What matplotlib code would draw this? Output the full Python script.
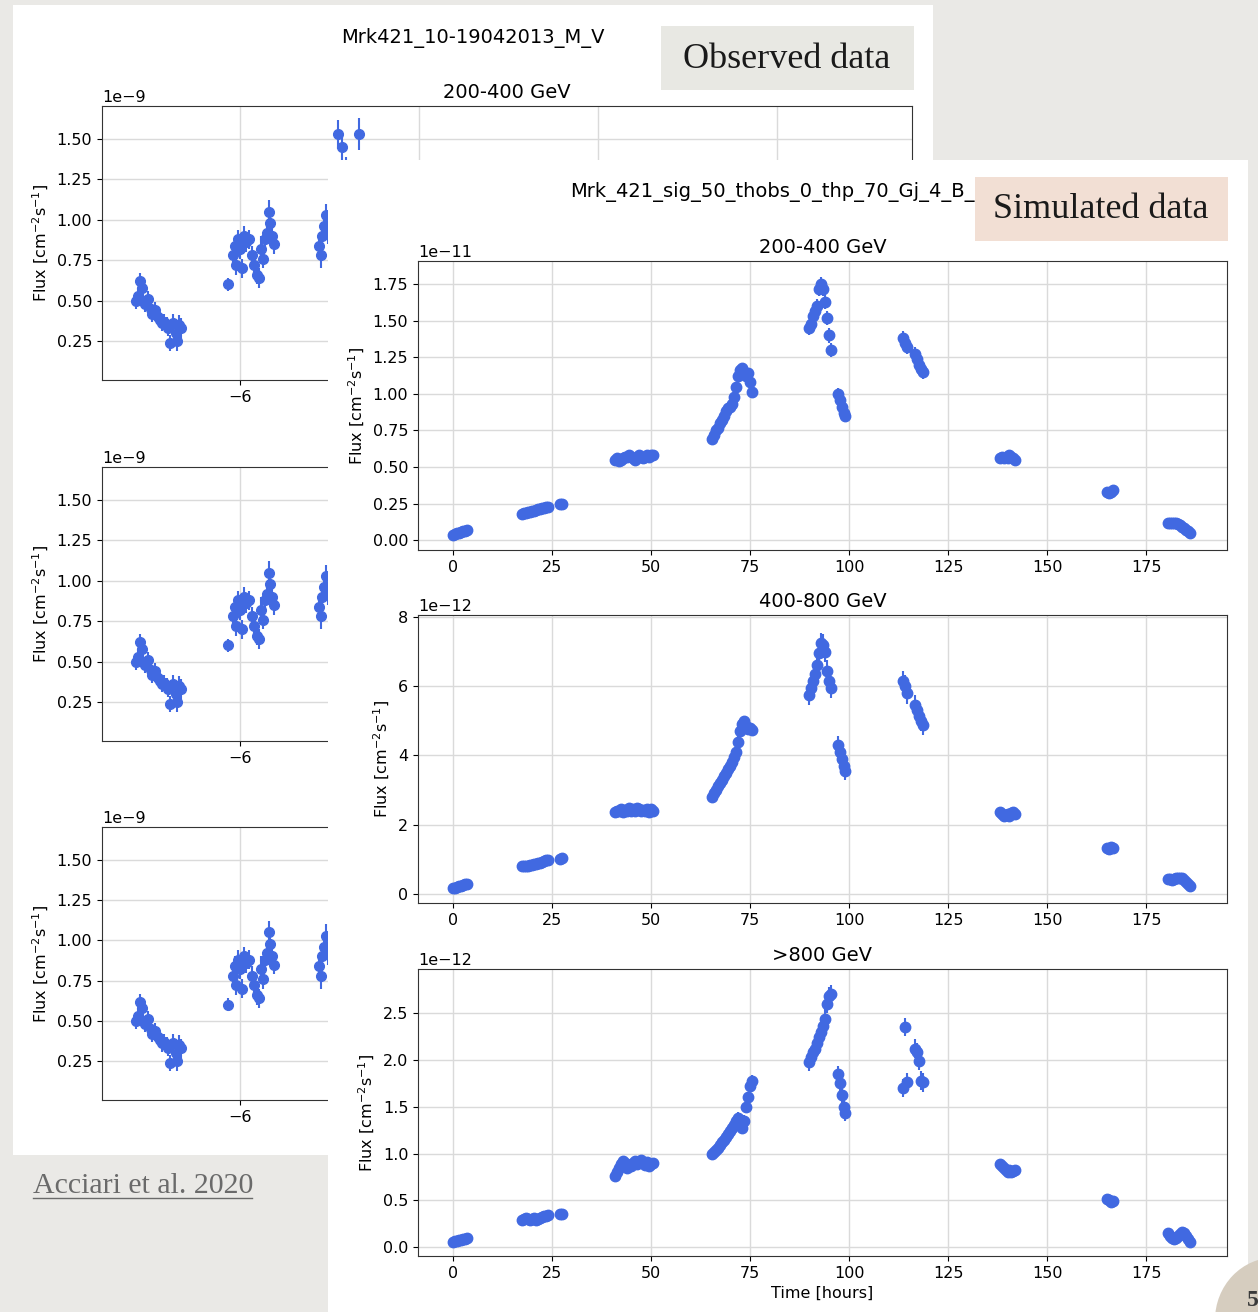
import numpy as np
import matplotlib.pyplot as plt
from matplotlib.patches import Rectangle, Circle
from matplotlib.lines import Line2D
from matplotlib.ticker import MultipleLocator

W, H = 1258, 1312

# Observed light curve (Acciari et al. 2020), only the part left visible on the slide, flux in 1e-9
obs_time = [-7.16, -7.14, -7.12, -7.10, -7.08, -7.06, -7.03, -7.00, -6.98, -6.95, -6.92,
            -6.90, -6.87, -6.85, -6.82, -6.80, -6.78, -6.75, -6.72, -6.70, -6.68, -6.66,
            -6.13, -6.08, -6.06, -6.04, -6.02, -6.00, -5.98, -5.96, -5.93, -5.90, -5.87,
            -5.84, -5.81, -5.79, -5.76, -5.74, -5.72, -5.70, -5.68, -5.66, -5.64, -5.62,
            -5.12, -5.10, -5.08, -5.06, -5.04, -5.02, -4.90, -4.86, -4.82, -4.67]
obs_flux = [0.50, 0.53, 0.62, 0.58, 0.50, 0.48, 0.51, 0.45, 0.42, 0.44, 0.40,
            0.38, 0.36, 0.37, 0.35, 0.33, 0.24, 0.36, 0.30, 0.25, 0.35, 0.33,
            0.60, 0.78, 0.84, 0.72, 0.88, 0.82, 0.70, 0.90, 0.86, 0.88, 0.78,
            0.72, 0.66, 0.64, 0.82, 0.76, 0.88, 0.92, 1.05, 0.98, 0.90, 0.85,
            0.84, 0.78, 0.90, 0.96, 1.03, 0.92, 1.53, 1.45, 1.30, 1.53]
obs_err = [0.05, 0.05, 0.05, 0.05, 0.05, 0.05, 0.05, 0.05, 0.05, 0.05, 0.05,
           0.05, 0.05, 0.05, 0.05, 0.05, 0.05, 0.06, 0.06, 0.06, 0.06, 0.06,
           0.04, 0.06, 0.06, 0.06, 0.06, 0.06, 0.06, 0.06, 0.06, 0.06, 0.06,
           0.06, 0.06, 0.06, 0.08, 0.06, 0.06, 0.06, 0.07, 0.07, 0.06, 0.06,
           0.06, 0.08, 0.07, 0.07, 0.07, 0.07, 0.09, 0.09, 0.09, 0.10]

# Simulated light curves, time in hours
sim_time = [0.0, 0.5, 1.0, 1.5, 2.0, 2.5, 3.0, 3.5,
            17.5, 18.0, 18.5, 19.0, 19.5, 20.0, 20.5, 21.0, 21.5, 22.0, 22.5, 23.0, 23.5, 24.0,
            27.0, 27.5,
            41.0, 41.5, 42.0, 42.5, 43.0, 43.5, 44.0, 44.5, 45.0, 45.5,
            46.0, 46.5, 47.0, 47.5, 48.0, 48.5, 49.0, 49.5, 50.0, 50.5,
            65.5, 66.0, 66.5, 67.0, 67.5, 68.0, 68.5, 69.0, 69.5, 70.0, 70.5,
            71.0, 71.5, 72.0, 72.5, 73.0, 73.5, 74.0, 74.5, 75.0, 75.5,
            90.0, 90.5, 91.0, 91.5, 92.0, 92.5, 93.0, 93.5, 94.0, 94.5, 95.0, 95.5,
            97.2, 97.7, 98.2, 98.7, 99.1,
            113.6, 114.1, 114.6,
            116.6, 117.1, 117.6, 118.1, 118.6,
            138.0, 138.5, 139.0, 139.5, 140.0, 140.5, 141.0, 141.5, 142.0,
            165.0, 165.5, 166.0, 166.5,
            180.5, 181.0, 181.5, 182.0, 182.5, 183.0, 183.5, 184.0, 184.5, 185.0, 185.5, 186.0]
seg_len = [8, 14, 2, 20, 21, 12, 5, 3, 5, 9, 4, 12]

# 200-400 GeV, 1e-11
flux_low = [0.035, 0.040, 0.045, 0.050, 0.055, 0.060, 0.065, 0.070,
            0.180, 0.182, 0.186, 0.190, 0.194, 0.198, 0.202, 0.206, 0.210, 0.214, 0.218, 0.222, 0.226, 0.228,
            0.245, 0.250,
            0.55, 0.56, 0.54, 0.55, 0.56, 0.57, 0.57, 0.58, 0.57, 0.56,
            0.55, 0.57, 0.58, 0.57, 0.56, 0.57, 0.58, 0.57, 0.58, 0.58,
            0.69, 0.72, 0.75, 0.77, 0.80, 0.82, 0.85, 0.88, 0.90, 0.91, 0.93,
            0.98, 1.05, 1.12, 1.16, 1.18, 1.15, 1.12, 1.14, 1.08, 1.01,
            1.45, 1.48, 1.53, 1.57, 1.60, 1.72, 1.75, 1.72, 1.63, 1.52, 1.40, 1.30,
            1.00, 0.96, 0.91, 0.87, 0.85,
            1.38, 1.35, 1.32,
            1.27, 1.24, 1.20, 1.17, 1.15,
            0.56, 0.57, 0.56, 0.57, 0.56, 0.58, 0.57, 0.56, 0.55,
            0.33, 0.32, 0.33, 0.34,
            0.120, 0.120, 0.120, 0.120, 0.115, 0.110, 0.100, 0.090, 0.080, 0.070, 0.060, 0.045]
# 400-800 GeV, 1e-12
flux_mid = [0.15, 0.17, 0.19, 0.21, 0.23, 0.25, 0.27, 0.28,
            0.80, 0.80, 0.81, 0.81, 0.82, 0.84, 0.85, 0.86, 0.88, 0.90, 0.92, 0.94, 0.96, 0.97,
            1.00, 1.03,
            2.35, 2.40, 2.38, 2.45, 2.36, 2.42, 2.40, 2.47, 2.38, 2.45,
            2.40, 2.48, 2.44, 2.38, 2.42, 2.40, 2.46, 2.36, 2.44, 2.40,
            2.80, 2.90, 3.00, 3.10, 3.20, 3.30, 3.40, 3.50, 3.60, 3.70, 3.80,
            3.95, 4.10, 4.40, 4.70, 4.90, 5.00, 4.85, 4.75, 4.80, 4.72,
            5.75, 5.95, 6.15, 6.35, 6.60, 6.95, 7.25, 7.20, 7.00, 6.45, 6.15, 5.95,
            4.30, 4.10, 3.90, 3.70, 3.55,
            6.15, 6.02, 5.80,
            5.45, 5.30, 5.15, 5.00, 4.88,
            2.35, 2.30, 2.25, 2.28, 2.30, 2.26, 2.32, 2.35, 2.30,
            1.32, 1.30, 1.35, 1.32,
            0.42, 0.41, 0.40, 0.42, 0.44, 0.45, 0.46, 0.44, 0.40, 0.34, 0.28, 0.22]
# >800 GeV, 1e-12
flux_high = [0.060, 0.065, 0.070, 0.075, 0.080, 0.085, 0.090, 0.095,
             0.29, 0.30, 0.31, 0.30, 0.29, 0.30, 0.31, 0.29, 0.30, 0.31, 0.32, 0.33, 0.33, 0.34,
             0.35, 0.36,
             0.76, 0.80, 0.85, 0.89, 0.92, 0.90, 0.85, 0.88, 0.87, 0.90,
             0.92, 0.89, 0.91, 0.93, 0.90, 0.88, 0.91, 0.87, 0.89, 0.90,
             1.00, 1.02, 1.04, 1.06, 1.09, 1.12, 1.15, 1.18, 1.21, 1.24, 1.27,
             1.31, 1.35, 1.38, 1.30, 1.27, 1.35, 1.50, 1.60, 1.72, 1.78,
             1.98, 2.03, 2.08, 2.12, 2.18, 2.24, 2.30, 2.36, 2.44, 2.60, 2.68, 2.70,
             1.85, 1.75, 1.62, 1.50, 1.43,
             1.70, 2.35, 1.76,
             2.12, 2.08, 1.99, 1.78, 1.76,
             0.89, 0.87, 0.85, 0.83, 0.80, 0.82, 0.80, 0.81, 0.82,
             0.52, 0.50, 0.48, 0.49,
             0.15, 0.12, 0.10, 0.09, 0.10, 0.12, 0.14, 0.16, 0.15, 0.12, 0.09, 0.06]

# error bar size per segment
err_low = [0.01, 0.01, 0.01, 0.02, 0.03, 0.05, 0.04, 0.05, 0.05, 0.02, 0.02, 0.01]
err_mid = [0.05, 0.05, 0.06, 0.12, 0.15, 0.30, 0.25, 0.30, 0.30, 0.12, 0.10, 0.05]
err_high = [0.01, 0.02, 0.02, 0.04, 0.06, 0.10, 0.08, 0.10, 0.10, 0.04, 0.03, 0.02]

bands = ['200-400 GeV', '400-800 GeV', '>800 GeV']

BLUE = 'royalblue'
BG = '#eae9e6'

fig = plt.figure(figsize=(W / 100, H / 100), dpi=100)
fig.patch.set_facecolor(BG)


def px_axes(l, t, r, b):
    return fig.add_axes([l / W, 1 - b / H, (r - l) / W, (b - t) / H])


def px_rect(l, t, r, b, color, z):
    fig.add_artist(Rectangle((l / W, 1 - b / H), (r - l) / W, (b - t) / H,
                             transform=fig.transFigure, facecolor=color,
                             edgecolor='none', zorder=z))


def style(ax):
    ax.grid(True, color='#dadada', linewidth=1.0)
    ax.set_axisbelow(True)
    ax.tick_params(labelsize=11.5)
    ax.yaxis.get_offset_text().set_fontsize(11.5)
    for s in ax.spines.values():
        s.set_color('#333333')
    ax.set_ylabel('Flux [cm$^{-2}$s$^{-1}$]', fontsize=11.5)


# ---- observed figure (underneath) ----
px_rect(13, 5, 933, 1155, 'white', -1)
fig.text(473 / W, 1 - 38 / H, 'Mrk421_10-19042013_M_V', ha='center', va='center', fontsize=14)

obs_boxes = [(102, 106, 912, 380), (102, 467, 912, 741), (102, 827, 912, 1100)]
for i, pos in enumerate(obs_boxes):
    ax = px_axes(*pos)
    ax.errorbar(obs_time, np.array(obs_flux) * 1e-9, yerr=np.array(obs_err) * 1e-9,
                fmt='o', color=BLUE, markersize=7, elinewidth=1.5, capsize=0)
    ax.set_xlim(-7.543, 1.513)
    ax.set_xticks([-6, -4, -2, 0])
    ax.set_ylim(0.009e-9, 1.704e-9)
    ax.set_title(bands[i], fontsize=14)
    style(ax)

px_rect(661, 26, 914, 90, '#e8e8e3', 0.5)
fig.text(787 / W, 1 - 60 / H, 'Observed data', ha='center', va='center',
         fontsize=26, family='Liberation Serif', color='#1a1a1a', zorder=0.6)

fig.text(33 / W, 1 - 1186 / H, 'Acciari et al. 2020', ha='left', va='center',
         fontsize=21.5, family='Liberation Serif', color='#6a6a6a')
fig.add_artist(Line2D([33 / W, 252 / W], [1 - 1198 / H, 1 - 1198 / H],
                      transform=fig.transFigure, color='#6a6a6a', linewidth=1))

# ---- simulated figure (on top) ----
px_rect(328, 160, 1248, 1312, 'white', 1.5)
fig.text(570 / W, 1 - 192 / H, 'Mrk_421_sig_50_thobs_0_thp_70_Gj_4_B_', ha='left',
         va='center', fontsize=14, zorder=2.5)

sim_boxes = [(418, 261, 1227, 550), (418, 615, 1227, 903), (418, 969, 1227, 1256)]
sim_data = [(flux_low, err_low, 1e-11, (-0.068, 1.909), 0.25),
            (flux_mid, err_mid, 1e-12, (-0.27, 8.06), 2),
            (flux_high, err_high, 1e-12, (-0.093, 2.97), 0.5)]
for i, pos in enumerate(sim_boxes):
    flux, err, scale, ylim, step = sim_data[i]
    ax = px_axes(*pos)
    ax.set_zorder(2)
    yerr = np.repeat(err, seg_len)
    ax.errorbar(sim_time, np.array(flux) * scale, yerr=yerr * scale,
                fmt='o', color=BLUE, markersize=7.5, elinewidth=1.5, capsize=0)
    ax.set_xlim(-8.8, 195.4)
    ax.set_ylim(ylim[0] * scale, ylim[1] * scale)
    ax.yaxis.set_major_locator(MultipleLocator(step * scale))
    ax.set_title(bands[i], fontsize=14)
    style(ax)
ax.set_xlabel('Time [hours]', fontsize=11.5)

px_rect(975, 177, 1228, 241, '#f2dfd4', 3)
fig.text(1101 / W, 1 - 210 / H, 'Simulated data', ha='center', va='center',
         fontsize=26, family='Liberation Serif', color='#1a1a1a', zorder=3.5)

# page number badge
fig.add_artist(Circle((1275 / W, 1 - 1320 / H), 60 / W, transform=fig.transFigure,
                      facecolor='#d6cdbf', edgecolor='none', zorder=4))
fig.text(1247 / W, 1 - 1300 / H, '5', ha='left', va='center', fontsize=17,
         family='Liberation Serif', fontweight='bold', color='#3a3a3a', zorder=4.5)

fig.savefig('out.png', dpi=100, facecolor=fig.get_facecolor())
